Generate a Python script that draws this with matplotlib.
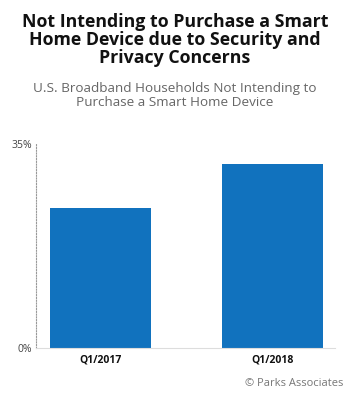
import matplotlib
matplotlib.use('Agg')
import matplotlib.pyplot as plt

# data
periods = ['Q1/2017', 'Q1/2018']
share = [24, 31.6]
ytick_vals = [0, 35]
ytick_labels = ['0%', '35%']

title = 'Not Intending to Purchase a Smart\nHome Device due to Security and\nPrivacy Concerns'
subtitle = 'U.S. Broadband Households Not Intending to\nPurchase a Smart Home Device'
source = '© Parks Associates'

plt.rcParams['font.family'] = ['Open Sans', 'DejaVu Sans']

fig = plt.figure(figsize=(3.5, 4), dpi=100)
ax = fig.add_axes([0.103, 0.13, 0.854, 0.51])

ax.bar(range(len(periods)), share, width=0.585, color='#1172be', zorder=2)
ax.set_xlim(-0.374, 1.36)
ax.set_ylim(0, 35)

ax.set_yticks(ytick_vals)
ax.set_yticklabels(ytick_labels, fontsize=7.5, color='#444444')
ax.set_xticks(range(len(periods)))
ax.set_xticklabels(periods, fontsize=7.5, fontweight='bold', color='#111111')
ax.tick_params(axis='y', length=0, pad=3)
ax.tick_params(axis='x', length=0, pad=5)

for side in ['top', 'right']:
    ax.spines[side].set_visible(False)
ax.spines['left'].set_linestyle((0, (1, 1.5)))
ax.spines['left'].set_color('#999999')
ax.spines['left'].set_linewidth(0.8)
ax.spines['bottom'].set_color('#dddddd')
ax.spines['bottom'].set_linewidth(0.8)

fig.text(0.5, 0.968, title, ha='center', va='top', fontsize=12.8,
         fontweight='bold', color='#111111', linespacing=1.0)
fig.text(0.5, 0.795, subtitle, ha='center', va='top', fontsize=9.7,
         color='#666666', linespacing=1.08)
fig.text(0.98, 0.042, source, ha='right', va='center', fontsize=8,
         color='#777777')

fig.savefig('out.png', dpi=100)
